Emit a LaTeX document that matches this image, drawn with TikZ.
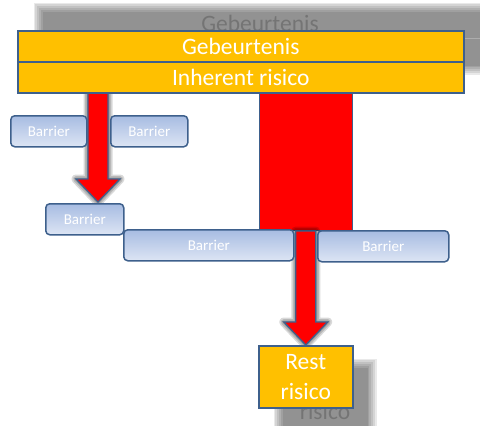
\documentclass[tikz,border=0pt]{standalone}
\usepackage{fontspec}
\setmainfont{Carlito}
\usetikzlibrary{calc,backgrounds}
\definecolor{hdrfill}{HTML}{FFC000}
\definecolor{edge}{RGB}{62,96,140}
\definecolor{btop}{HTML}{A7BCE2}
\definecolor{bbot}{HTML}{DDE5F4}
\tikzset{
 hdr/.style={draw=edge, line width=1.5pt, fill=hdrfill, text=white, font=\fontsize{23.5}{28}\selectfont, inner sep=0pt, anchor=north west},
 barrier/.style={draw=edge, line width=1.5pt, rounded corners=4pt, top color=btop, bottom color=bbot, text=white, font=\fontsize{15}{18}\selectfont, inner sep=0pt, anchor=north west, minimum height=31pt},
 redbox/.style={draw=edge, line width=1pt, fill=red, inner sep=0pt, anchor=north west},
 arrowbody/.style={fill=red, draw=edge, line width=1.3pt, line join=miter},
 arrowshade/.style={draw=black, opacity=0.15, line join=round},
 softfill/.style={fill=black, opacity=0.085},
}
\newcommand\arrowpath[2]{let \p1=(#1), \p2=(#2) in
 (\x1-10pt,\y1) -- (\x1-10pt,\y2+23pt) -- (\x1-22pt,\y2+23pt) -- (\x2,\y2) -- (\x1+22pt,\y2+23pt) -- (\x1+10pt,\y2+23pt) -- (\x1+10pt,\y1) -- cycle}
\newcommand\softrect[4]{%
 \foreach \i in {0,...,5}{%
  \pgfmathsetmacro\d{(\i-2.5)*1.8}%
  \fill[softfill] ({#1+\d},{#2+\d}) rectangle ({#3-\d},{#4-\d});}}
\begin{document}
\begin{tikzpicture}[x=1pt,y=-1pt]
\useasboundingbox (0,0) rectangle (480,426);
\clip (0,0) rectangle (480,426);
% main boxes
\node[hdr, minimum width=446pt, minimum height=31pt] (geb) at (17,30) {Gebeurtenis};
\node[hdr, minimum width=446pt, minimum height=31pt] (inh) at (17,61) {Inherent risico};
\node[hdr, minimum width=94pt, minimum height=62pt, align=center, font=\fontsize{23.5}{30}\selectfont] (rest) at (258,345) {Rest\\risico};
% barriers
\node[barrier, minimum width=76pt] (b1) at (10,115) {Barrier};
\node[barrier, minimum width=77pt] (b2) at (110,115) {Barrier};
\node[barrier, minimum width=78pt] (b3) at (45,203) {Barrier};
\node[barrier, minimum width=170pt] (b4) at (123,229) {Barrier};
\node[barrier, minimum width=131pt] (b5) at (317,230) {Barrier};
\coordinate (a1s) at (98,92);
\coordinate (a1e) at (98,202);
\begin{pgfonlayer}{background}
\fill[white] (0,0) rectangle (480,426);
% blurred shadows
\softrect{38}{7}{500}{70}
\draw[white, opacity=0.25, line width=0.8pt] (463,38.5) -- (480,38.5);
\node[text=black, opacity=0.2, font=\fontsize{23.5}{28}\selectfont] (gebshadow) at (260,23) {Gebeurtenis};
\softrect{278}{363}{372}{440}
\node[text=black, opacity=0.2, font=\fontsize{23.5}{28}\selectfont] (restshadow) at (325,411) {risico};
% red block
\node[redbox, minimum width=93pt, minimum height=138pt] (red) at (259,92) {};
\coordinate (a2s) at (rest.north |- red.south);
% arrow shadows
\foreach \w in {9,6,3}{
 \draw[arrowshade, line width=\w pt, shift={(1pt,-2pt)}] \arrowpath{a1s}{a1e};
 \draw[arrowshade, line width=\w pt, shift={(1pt,-2pt)}] \arrowpath{a2s}{rest.north};
}
% arrows
\draw[arrowbody] \arrowpath{a1s}{a1e};
\draw[arrowbody] \arrowpath{a2s}{rest.north};
\end{pgfonlayer}
\end{tikzpicture}
\end{document}
